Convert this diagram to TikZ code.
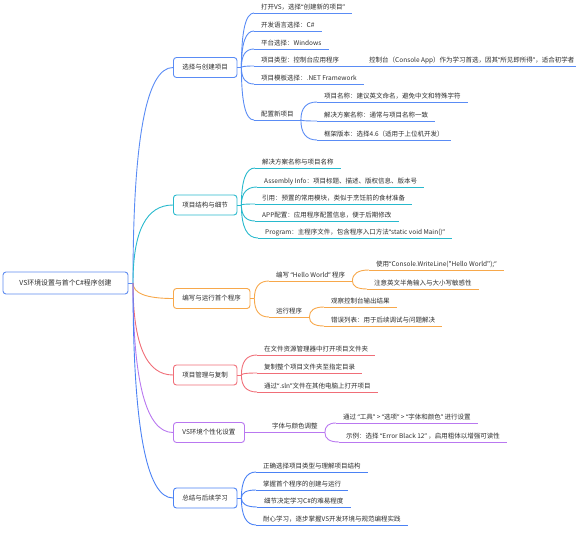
\documentclass[tikz,border=0pt]{standalone}
\usepackage{fontspec}
\newfontfamily\cjkfont{Noto Sans CJK SC}
\newfontfamily\latfont{Noto Sans}
\usetikzlibrary{calc}
\definecolor{cRoot}{RGB}{95,140,240}
\definecolor{cA}{RGB}{90,140,245}
\definecolor{cB}{RGB}{40,185,205}
\definecolor{cC}{RGB}{247,168,75}
\definecolor{cD}{RGB}{240,110,120}
\definecolor{cE}{RGB}{185,120,240}
\definecolor{cF}{RGB}{75,130,245}
\definecolor{txt}{RGB}{45,45,45}
\newcommand\ql{{\latfont “}}
\newcommand\qr{{\latfont ”}}
\newcommand\mmcurve[3]{\draw[#1,lnk] (#2) .. controls ($(#2)!0.667!(#2|-#3)$) and ($(#3)!0.667!(#2|-#3)$) .. (#3);}
\newcommand\mmunder[2]{\draw[#1,lnk] (#2.south west) -- (#2.south east);}
\begin{document}
\begin{tikzpicture}[x=1pt,y=-1pt,
  every node/.style={font=\cjkfont\fontsize{6.5}{8}\selectfont, text=txt},
  lnk/.style={line width=0.9pt},
  rootbox/.style={draw=cRoot, line width=0.9pt, rounded corners=3pt, fill=white, minimum width=125pt, minimum height=22pt, inner xsep=6pt},
  brbox/.style={line width=0.9pt, rounded corners=3pt, fill=white, minimum height=20pt, inner xsep=9pt, anchor=west},
  leaf/.style={anchor=south west, inner xsep=7pt, inner ysep=2.2pt, text height=5.4pt, text depth=1.2pt}]
\useasboundingbox (0,0) rectangle (576,549);

% root
\node[rootbox] (root) at (65.5,283) {\fontsize{6.9}{8}\selectfont VS环境设置与首个C\#程序创建};
\coordinate (rh) at (133,283);

% branches
\node[brbox,draw=cA] (b1) at (173,67.5) {选择与创建项目};
\node[brbox,draw=cB] (b2) at (173,205) {项目结构与细节};
\node[brbox,draw=cC] (b3) at (173,298.5) {编写与运行首个程序};
\node[brbox,draw=cD] (b4) at (173,375) {项目管理与复制};
\node[brbox,draw=cE] (b5) at (173,432.5) {VS环境个性化设置};
\node[brbox,draw=cF] (b6) at (173,498) {总结与后续学习};

\draw[cA,lnk] (root.east) -- (rh);
\mmcurve{cA}{rh}{b1.west}
\mmcurve{cB}{rh}{b2.west}
\mmcurve{cC}{rh}{b3.west}
\mmcurve{cD}{rh}{b4.west}
\mmcurve{cE}{rh}{b5.west}
\mmcurve{cF}{rh}{b6.west}

% branch 1
\coordinate (h1) at ($(b1.east)+(4,0)$);
\draw[cA,lnk] (b1.east) -- (h1);
\node[leaf] (a1) at (254,13) {打开VS，选择\ql 创建新的项目\qr};
\node[leaf] (a2) at (254,31) {开发语言选择：C\#};
\node[leaf] (a3) at (254,49) {平台选择：Windows};
\node[leaf] (a4) at (254,66) {项目类型：控制台应用程序};
\node[leaf] (a5) at (254,84) {项目模板选择：.NET Framework};
\node[leaf] (a6) at (254,120) {配置新项目};
\foreach \n in {a1,a2,a3,a4,a5,a6} {\mmcurve{cA}{h1}{\n.south west}\mmunder{cA}{\n}}
\node[leaf,inner xsep=5pt] (a4c) at (364,66) {控制台（Console App）作为学习首选，因其\ql 所见即所得\qr ，适合初学者};
\draw[cA,lnk] (a4.south east) -- (a4c.south west);
\mmunder{cA}{a4c}
\node[leaf] (a61) at (317,102) {项目名称：建议英文命名，避免中文和特殊字符};
\node[leaf] (a62) at (317,121) {解决方案名称：通常与项目名称一致};
\node[leaf] (a63) at (317,140) {框架版本：选择4.6（适用于上位机开发）};
\foreach \n in {a61,a62,a63} {\mmcurve{cA}{a6.south east}{\n.south west}\mmunder{cA}{\n}}

% branch 2
\coordinate (h2) at ($(b2.east)+(4,0)$);
\draw[cB,lnk] (b2.east) -- (h2);
\node[leaf] (c1) at (255,168) {解决方案名称与项目名称};
\node[leaf] (c2) at (257,187) {Assembly Info：项目标题、描述、版权信息、版本号};
\node[leaf] (c3) at (255,204) {引用：预置的常用模块，类似于烹饪前的食材准备};
\node[leaf] (c4) at (255,221) {APP配置：应用程序配置信息，便于后期修改};
\node[leaf] (c5) at (258,238) {Program：主程序文件，包含程序入口方法\ql static void Main()\qr};
\foreach \n in {c1,c2,c3,c4,c5} {\mmcurve{cB}{h2}{\n.south west}\mmunder{cB}{\n}}

% branch 3
\coordinate (h3) at ($(b3.east)+(4,0)$);
\draw[cC,lnk] (b3.east) -- (h3);
\node[leaf] (d1) at (269,281) {编写 \ql Hello World\qr\ 程序};
\node[leaf] (d2) at (269,317) {运行程序};
\foreach \n in {d1,d2} {\mmcurve{cC}{h3}{\n.south west}\mmunder{cC}{\n}}
\node[leaf] (d11) at (369,270) {使用\ql Console.WriteLine("Hello World");\qr};
\node[leaf] (d12) at (367,289) {注意英文半角输入与大小写敏感性};
\foreach \n in {d11,d12} {\mmcurve{cC}{d1.south east}{\n.south west}\mmunder{cC}{\n}}
\node[leaf] (d21) at (324,307) {观察控制台输出结果};
\node[leaf] (d22) at (324,326) {错误列表：用于后续调试与问题解决};
\foreach \n in {d21,d22} {\mmcurve{cC}{d2.south east}{\n.south west}\mmunder{cC}{\n}}

% branch 4
\coordinate (h4) at ($(b4.east)+(4,0)$);
\draw[cD,lnk] (b4.east) -- (h4);
\node[leaf] (e1) at (257,355) {在文件资源管理器中打开项目文件夹};
\node[leaf] (e2) at (257,373) {复制整个项目文件夹至指定目录};
\node[leaf] (e3) at (257,392) {通过\ql .sln\qr 文件在其他电脑上打开项目};
\foreach \n in {e1,e2,e3} {\mmcurve{cD}{h4}{\n.south west}\mmunder{cD}{\n}}

% branch 5
\node[leaf] (f1) at (265,432.5) {字体与颜色调整};
\draw[cE,lnk] (b5.east) -- (f1.south west);
\mmunder{cE}{f1}
\node[leaf] (f11) at (336,423) {通过 \ql 工具\qr\ > \ql 选项\qr\ > \ql 字体和颜色\qr\ 进行设置};
\node[leaf] (f12) at (339,442) {示例：选择 \ql Error Black 12\qr\ ，启用粗体以增强可读性};
\foreach \n in {f11,f12} {\mmcurve{cE}{f1.south east}{\n.south west}\mmunder{cE}{\n}}

% branch 6
\coordinate (h6) at ($(b6.east)+(4,0)$);
\draw[cF,lnk] (b6.east) -- (h6);
\node[leaf] (g1) at (256,472) {正确选择项目类型与理解项目结构};
\node[leaf] (g2) at (256,490) {掌握首个程序的创建与运行};
\node[leaf] (g3) at (257,507) {细节决定学习C\#的难易程度};
\node[leaf] (g4) at (256,525) {耐心学习，逐步掌握VS开发环境与规范编程实践};
\foreach \n in {g1,g2,g3,g4} {\mmcurve{cF}{h6}{\n.south west}\mmunder{cF}{\n}}
\end{tikzpicture}
\end{document}
